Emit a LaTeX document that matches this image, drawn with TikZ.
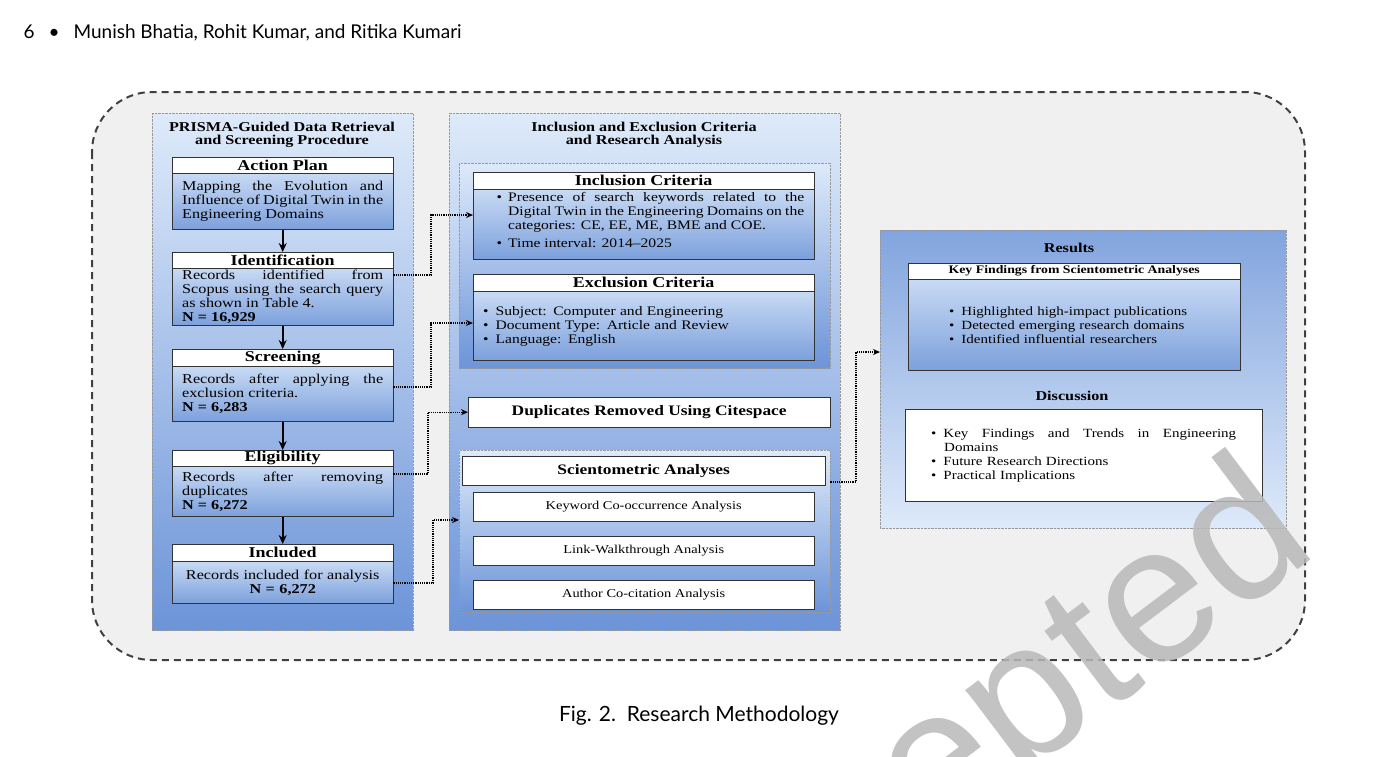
\documentclass[tikz,border=0pt]{standalone}
\usepackage{fontspec}
\usetikzlibrary{arrows.meta}
\setmainfont[FakeStretch=1.2]{Liberation Serif}
\newfontfamily\hdfont{Lato}
\newfontfamily\wmfont{Liberation Sans}
\definecolor{ptop}{RGB}{222,234,250}
\definecolor{pbot}{RGB}{108,148,216}
\definecolor{btop}{RGB}{200,218,244}
\definecolor{bbot}{RGB}{124,160,220}
\hyphenpenalty=10000 \exhyphenpenalty=10000 \tolerance=10000
\begin{document}
\begin{tikzpicture}[x=1pt,y=-1pt,
  panel/.style={draw=black!40, densely dotted, top color=ptop, bottom color=pbot},
  hdr/.style={draw=black!80, fill=white, anchor=north west, inner sep=0pt, font=\fontsize{15}{15}\selectfont\bfseries},
  body/.style={draw=black!80, anchor=north west, inner sep=0pt, top color=btop, bottom color=bbot, font=\fontsize{13.5}{14}\selectfont},
  wbox/.style={draw=black!80, fill=white, anchor=north west, inner sep=0pt, font=\fontsize{12}{13}\selectfont},
  ptitle/.style={font=\fontsize{13.5}{16}\selectfont\bfseries, align=center},
  flow/.style={-{Stealth[length=9pt,width=8pt]}, line width=1.8pt},
  link/.style={-{Stealth[length=7pt,width=6pt]}, densely dotted, line width=1.2pt}]
\useasboundingbox (0,0) rectangle (1398,756);
\begin{scope}
\clip (0,0) rectangle (1398,756);
% header
\node[anchor=west, font=\hdfont\fontsize{19}{20}\selectfont] (hd) at (20,33) {6\hspace{14pt}\textbullet\hspace{14pt}Munish Bhatia, Rohit Kumar, and Ritika Kumari};
% outer
\draw[line width=2pt, black!75, fill=black!6, rounded corners=60pt, dash pattern=on 7pt off 5pt] (92,92) rectangle (1305,660);
% left panel
\node[panel, anchor=north west, minimum width=261, minimum height=517, inner sep=0pt] (lp) at (152,113) {};
\node[ptitle] (lpt) at (282,135) {PRISMA-Guided Data Retrieval\\[-3pt]and Screening Procedure};
\newcommand\step[7]{%
 \node[hdr, minimum width=221, minimum height=#3] (#1h) at (172,#2) {#4};
 \node[body, minimum width=221, minimum height=#5, text width=201, align=#7, anchor=north] (#1) at (#1h.south) {#6};}
\step{ap}{157}{16}{Action Plan}{56}{Mapping the Evolution and Influence of Digital Twin in the Engineering Domains}{justify}
\step{id}{252}{16}{Identification}{57}{Records identified from Scopus using the search query as shown in Table 4.\\\centering\textbf{N = 16,929}}{justify}
\step{sc}{349}{17}{Screening}{55}{Records after applying the exclusion criteria.\\\centering\textbf{N = 6,283}}{justify}
\step{el}{450}{16}{Eligibility}{50}{Records after removing duplicates\\\centering\textbf{N = 6,272}}{justify}
\step{in}{544}{17}{Included}{42}{Records included for analysis\\\textbf{N = 6,272}}{center}
\draw[flow] (ap.south) -- (idh.north);
\draw[flow] (id.south) -- (sch.north);
\draw[flow] (sc.south) -- (elh.north);
\draw[flow] (el.south) -- (inh.north);
% middle panel
\node[panel, anchor=north west, minimum width=391, minimum height=517, inner sep=0pt] (mp) at (449,113) {};
\node[ptitle] (mpt) at (644,135) {Inclusion and Exclusion Criteria\\[-3pt]and Research Analysis};
\node[panel, anchor=north west, minimum width=371, minimum height=205, inner sep=0pt] (ip) at (459,163) {};
\node[hdr, minimum width=341, minimum height=17] (ich) at (473,172) {Inclusion Criteria};
\node[body, anchor=north, minimum width=341, minimum height=70, text width=321, align=justify, font=\fontsize{13}{14}\selectfont] (ic) at (ich.south) {\vspace*{-14pt}\begin{itemize}\setlength\itemsep{0pt}\setlength\parsep{0pt}\setlength\leftmargin{12pt}\setlength\labelsep{6pt}\setlength\topsep{0pt}
\item Presence of search keywords related to the Digital Twin in the Engineering Domains on the categories: CE, EE, ME, BME and COE.
\item Time interval: 2014--2025\end{itemize}\vspace*{8pt}};
\node[hdr, minimum width=341, minimum height=17] (ech) at (473,274) {Exclusion Criteria};
\node[body, anchor=north, minimum width=341, minimum height=69, text width=321, align=left, font=\fontsize{13}{14}\selectfont] (ec) at (ech.south) {\textbullet\hspace{7pt}Subject: Computer and Engineering\\\textbullet\hspace{7pt}Document Type: Article and Review\\\textbullet\hspace{7pt}Language: English};
\node[wbox, minimum width=362, minimum height=30, font=\fontsize{14.5}{16}\selectfont\bfseries] (du) at (468,397) {Duplicates Removed Using Citespace};
\node[panel, anchor=north west, minimum width=371, minimum height=162, inner sep=0pt] (sp) at (459,450) {};
\node[wbox, minimum width=363, minimum height=29, font=\fontsize{14.5}{16}\selectfont\bfseries] (sah) at (462,456) {Scientometric Analyses};
\node[wbox, minimum width=341, minimum height=29] (s1) at (473,492) {Keyword Co-occurrence Analysis};
\node[wbox, minimum width=341, minimum height=29] (s2) at (473,536) {Link-Walkthrough Analysis};
\node[wbox, minimum width=341, minimum height=29] (s3) at (473,580) {Author Co-citation Analysis};
% right panel
\node[draw=black!40, densely dotted, anchor=north west, minimum width=406, minimum height=298, inner sep=0pt, top color=pbot!85!white, bottom color=ptop] (rp) at (880,230) {};
\node[ptitle] (rt) at (1069,248) {Results};
\node[hdr, minimum width=332, minimum height=16, font=\fontsize{11.5}{13}\selectfont\bfseries] (kfh) at (908,263) {Key Findings from Scientometric Analyses};
\node[body, anchor=north, minimum width=332, minimum height=91, text width=250, align=left, font=\fontsize{12.5}{14}\selectfont] (kf) at (kfh.south) {\textbullet\hspace{7pt}Highlighted high-impact publications\\\textbullet\hspace{7pt}Detected emerging research domains\\\textbullet\hspace{7pt}Identified influential researchers};
\node[ptitle] (dt) at (1072,396) {Discussion};
\node[wbox, minimum width=357, minimum height=92, font=\fontsize{12.5}{14}\selectfont, text width=305, align=left] (di) at (905,409) {\textbullet\hspace{7pt}Key\hfill Findings\hfill and\hfill Trends\hfill in\hfill Engineering\hspace*{10pt}\\\hspace*{13pt}Domains\\\textbullet\hspace{7pt}Future Research Directions\\\textbullet\hspace{7pt}Practical Implications};
% links
\draw[link] (id.east |- 0,275) -- (431,275) |- (ic.west |- 0,215);
\draw[link] (sc.east |- 0,387) -- (431,387) |- (ec.west |- 0,323);
\draw[link] (el.east |- 0,474) -- (428,474) |- (du.west);
\draw[link] (in.east |- 0,583) -- (433,583) |- (sp.west |- 0,520);
\draw[link] (sp.east |- 0,482) -- (856,482) |- (rp.west |- 0,352);
% caption
\node[font=\hdfont\fontsize{21}{22}\selectfont] (cap) at (699,716) {Fig. 2.\ \ Research Methodology};
% watermark
\node[rotate=37, anchor=south east, text=black!28, opacity=0.85, font=\wmfont\fontsize{195}{195}\selectfont] (wm) at (1350,585) {Accepted};
\end{scope}
\end{tikzpicture}
\end{document}
